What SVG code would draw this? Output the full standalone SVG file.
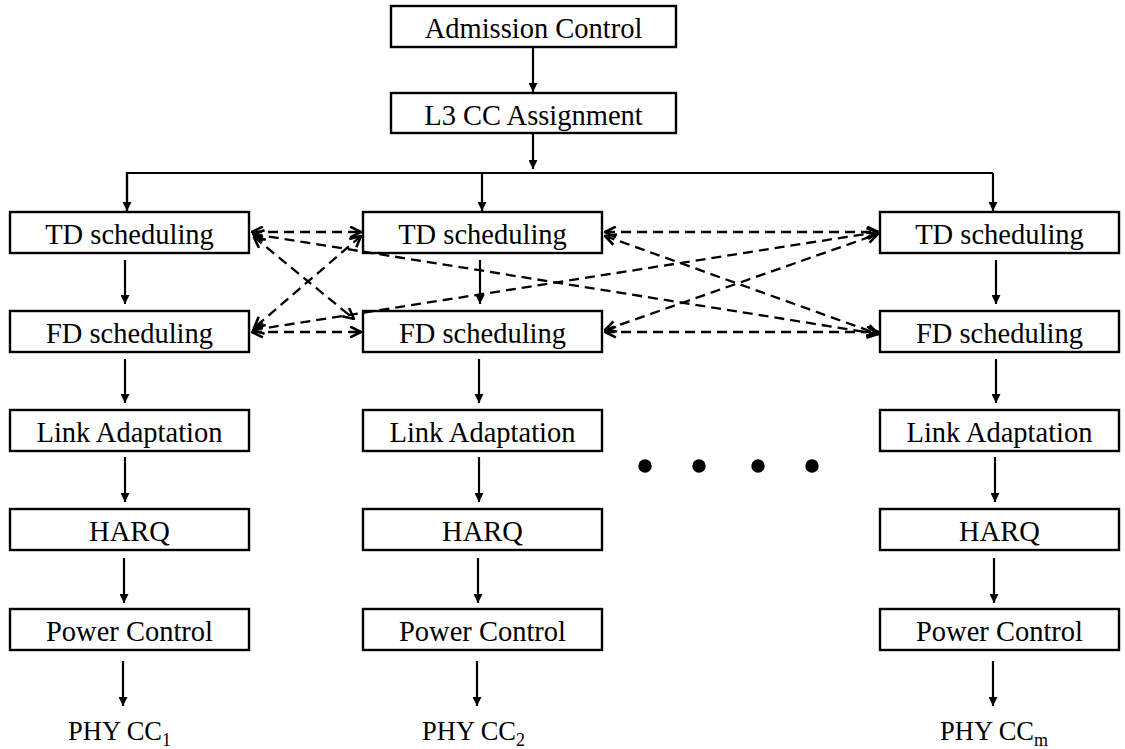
<svg xmlns="http://www.w3.org/2000/svg" width="1125" height="749" viewBox="0 0 1125 749">
  <style>
    .box { fill: #fff; stroke: #000; stroke-width: 2.4; }
    .lbl { font-family: "Liberation Serif", "Times New Roman", serif; font-size: 28.5px; fill: #000; text-anchor: middle; }
    .phy { font-family: "Liberation Serif", "Times New Roman", serif; font-size: 26.5px; fill: #000; }
    .sub { font-size: 18px; }
    .flow { stroke: #000; stroke-width: 2.2; fill: none; marker-end: url(#solid); }
    .bus { stroke: #000; stroke-width: 2.2; fill: none; }
    .link { stroke: #000; stroke-width: 2.3; fill: none; stroke-dasharray: 10 6; marker-start: url(#open); marker-end: url(#open); }
  </style>
  <defs>
    <marker id="solid" viewBox="0 0 10 10" refX="10" refY="5" markerWidth="10" markerHeight="9" markerUnits="userSpaceOnUse" orient="auto">
      <path d="M0,0 L10,5 L0,10 z" fill="#000"/>
    </marker>
    <marker id="open" viewBox="0 0 12 12" refX="11" refY="6" markerWidth="13" markerHeight="13" markerUnits="userSpaceOnUse" orient="auto-start-reverse">
      <path d="M1,1 L11,6 L1,11" fill="none" stroke="#000" stroke-width="2.4"/>
    </marker>
  </defs>

  <!-- common control blocks -->
  <g id="admission-control">
    <rect class="box" x="391" y="6" width="285" height="41"/>
    <text class="lbl" x="533.5" y="38">Admission Control</text>
  </g>
  <g id="l3-cc-assignment">
    <rect class="box" x="391" y="93" width="285" height="40"/>
    <text class="lbl" x="533.5" y="125">L3 CC Assignment</text>
  </g>

  <!-- column 1 -->
  <g id="td1"><rect class="box" x="10" y="212" width="239" height="41"/><text class="lbl" x="129.5" y="244">TD scheduling</text></g>
  <g id="fd1"><rect class="box" x="10" y="311" width="239" height="41"/><text class="lbl" x="129.5" y="343">FD scheduling</text></g>
  <g id="la1"><rect class="box" x="10" y="410" width="239" height="41"/><text class="lbl" x="129.5" y="442">Link Adaptation</text></g>
  <g id="harq1"><rect class="box" x="10" y="509" width="239" height="41"/><text class="lbl" x="129.5" y="541">HARQ</text></g>
  <g id="pc1"><rect class="box" x="10" y="609" width="239" height="41"/><text class="lbl" x="129.5" y="641">Power Control</text></g>
  <g id="phy1"><text class="phy" x="68" y="740">PHY CC<tspan class="sub" dy="6">1</tspan></text></g>

  <!-- column 2 -->
  <g id="td2"><rect class="box" x="363" y="212" width="239" height="41"/><text class="lbl" x="482.5" y="244">TD scheduling</text></g>
  <g id="fd2"><rect class="box" x="363" y="311" width="239" height="41"/><text class="lbl" x="482.5" y="343">FD scheduling</text></g>
  <g id="la2"><rect class="box" x="363" y="410" width="239" height="41"/><text class="lbl" x="482.5" y="442">Link Adaptation</text></g>
  <g id="harq2"><rect class="box" x="363" y="509" width="239" height="41"/><text class="lbl" x="482.5" y="541">HARQ</text></g>
  <g id="pc2"><rect class="box" x="363" y="609" width="239" height="41"/><text class="lbl" x="482.5" y="641">Power Control</text></g>
  <g id="phy2"><text class="phy" x="422" y="740">PHY CC<tspan class="sub" dy="6">2</tspan></text></g>

  <!-- column m -->
  <g id="tdm"><rect class="box" x="880" y="212" width="239" height="41"/><text class="lbl" x="999.5" y="244">TD scheduling</text></g>
  <g id="fdm"><rect class="box" x="880" y="311" width="239" height="41"/><text class="lbl" x="999.5" y="343">FD scheduling</text></g>
  <g id="lam"><rect class="box" x="880" y="410" width="239" height="41"/><text class="lbl" x="999.5" y="442">Link Adaptation</text></g>
  <g id="harqm"><rect class="box" x="880" y="509" width="239" height="41"/><text class="lbl" x="999.5" y="541">HARQ</text></g>
  <g id="pcm"><rect class="box" x="880" y="609" width="239" height="41"/><text class="lbl" x="999.5" y="641">Power Control</text></g>
  <g id="phym"><text class="phy" x="940" y="740">PHY CC<tspan class="sub" dy="6">m</tspan></text></g>

  <!-- ellipsis between columns -->
  <g id="ellipsis" fill="#000">
    <circle cx="645" cy="466" r="6.7"/>
    <circle cx="699" cy="466" r="6.7"/>
    <circle cx="758" cy="466" r="6.7"/>
    <circle cx="812" cy="466" r="6.7"/>
  </g>

  <g id="connectors">
    <!-- top-level flow -->
    <line class="flow" x1="533" y1="47" x2="533" y2="92"/>
    <line class="flow" x1="533" y1="133" x2="533" y2="169"/>
    <polyline class="bus" points="127,211 127,173 993,173"/>
    <line class="flow" x1="127" y1="173" x2="127" y2="211"/>
    <line class="flow" x1="482" y1="173" x2="482" y2="211"/>
    <line class="flow" x1="993" y1="173" x2="993" y2="211"/>

    <!-- column 1 chain -->
    <line class="flow" x1="125" y1="260" x2="125" y2="304"/>
    <line class="flow" x1="125" y1="359" x2="125" y2="403"/>
    <line class="flow" x1="125" y1="457" x2="125" y2="502"/>
    <line class="flow" x1="124" y1="558" x2="124" y2="603"/>
    <line class="flow" x1="123" y1="661" x2="123" y2="706"/>

    <!-- column 2 chain -->
    <line class="flow" x1="480" y1="260" x2="480" y2="304"/>
    <line class="flow" x1="479" y1="359" x2="479" y2="403"/>
    <line class="flow" x1="479" y1="457" x2="479" y2="502"/>
    <line class="flow" x1="478" y1="558" x2="478" y2="603"/>
    <line class="flow" x1="477" y1="661" x2="477" y2="706"/>

    <!-- column m chain -->
    <line class="flow" x1="996" y1="260" x2="996" y2="304"/>
    <line class="flow" x1="996" y1="359" x2="996" y2="403"/>
    <line class="flow" x1="995" y1="457" x2="995" y2="502"/>
    <line class="flow" x1="994" y1="558" x2="994" y2="603"/>
    <line class="flow" x1="993" y1="661" x2="993" y2="706"/>

    <!-- scheduler coordination between carriers -->
    <line class="link" x1="252" y1="232" x2="361" y2="232"/>
    <line class="link" x1="252" y1="332" x2="361" y2="332"/>
    <line class="link" x1="254" y1="237" x2="354" y2="319"/>
    <line class="link" x1="361" y1="236" x2="254" y2="328"/>
    <line class="link" x1="253" y1="234" x2="878" y2="334"/>
    <line class="link" x1="253" y1="330" x2="878" y2="232"/>
    <line class="link" x1="605" y1="232" x2="878" y2="232"/>
    <line class="link" x1="605" y1="332" x2="878" y2="332"/>
    <line class="link" x1="605" y1="236" x2="878" y2="334"/>
    <line class="link" x1="605" y1="330" x2="878" y2="234"/>
  </g>
</svg>
